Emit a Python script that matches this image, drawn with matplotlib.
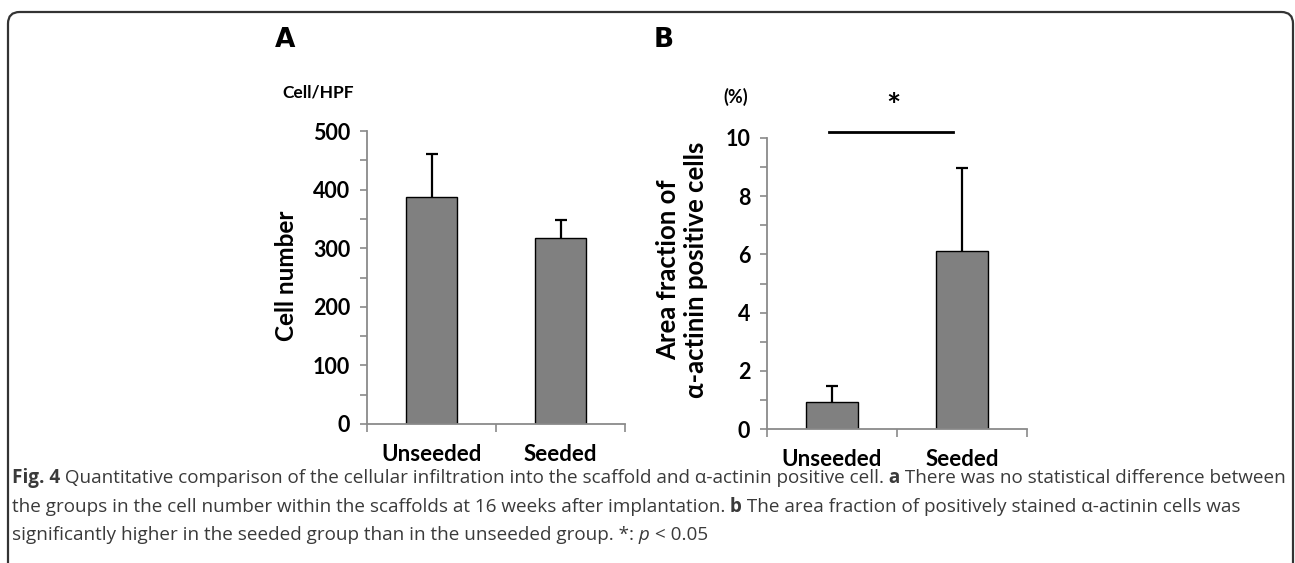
import numpy as np
import matplotlib
matplotlib.use("Agg")
import matplotlib.pyplot as plt
from matplotlib.patches import FancyBboxPatch
from matplotlib.ticker import MultipleLocator

# data
groups = ["Unseeded", "Seeded"]
cell_mean = [387, 317]
cell_err = [74, 31]
actinin_mean = [0.93, 6.12]
actinin_err = [0.55, 2.85]

W, H = 1295, 563
fig = plt.figure(figsize=(W / 100, H / 100), dpi=100)

chart_font = "Lato"
bar_color = "#808080"
axis_gray = "#8a8a8a"


def px(x, y):
    # pixel (from top-left) -> figure fraction
    return x / W, 1 - y / H


def bar_panel(ax, means, errs, ymax, major, minor):
    x = np.arange(len(groups)) + 0.5
    ax.bar(x, means, width=0.4, color=bar_color, edgecolor="black", linewidth=1.0, zorder=2)
    eb = ax.errorbar(x, means, yerr=[np.zeros(len(errs)), errs], fmt="none", ecolor="black",
                     elinewidth=1.6, capsize=4, capthick=1.6, zorder=3)
    eb[1][0].set_visible(False)  # no cap at the bar top
    ax.set_xlim(0, len(groups))
    ax.set_ylim(0, ymax)
    for s in ["top", "right"]:
        ax.spines[s].set_visible(False)
    for s in ["left", "bottom"]:
        ax.spines[s].set_color(axis_gray)
        ax.spines[s].set_linewidth(1.3)
    ax.yaxis.set_major_locator(MultipleLocator(major))
    ax.yaxis.set_minor_locator(MultipleLocator(minor))
    ax.tick_params(axis="y", which="both", direction="out", length=5, width=1.2, color=axis_gray,
                   labelsize=15.5, pad=7)
    ax.set_xticks(np.arange(len(groups) + 1))
    ax.set_xticklabels([])
    ax.tick_params(axis="x", direction="out", length=6, width=1.2, color=axis_gray)
    for lab in ax.get_yticklabels():
        lab.set_fontweight("bold")
        lab.set_fontfamily(chart_font)
    for xi, g in zip(x, groups):
        ax.text(xi, -0.105 * ymax, g, ha="center", va="center", fontsize=16,
                fontweight="bold", family=chart_font, transform=ax.transData, clip_on=False)


# panel A
l, b = px(367, 424)
_, t = px(0, 131)
axA = fig.add_axes([l, b, (625 - 367) / W, t - b])
bar_panel(axA, cell_mean, cell_err, 500, 100, 50)

# panel B
l, b = px(767, 429)
_, t = px(0, 138)
axB = fig.add_axes([l, b, (1027 - 767) / W, t - b])
bar_panel(axB, actinin_mean, actinin_err, 10, 2, 1)

# significance bar
axB.plot([0.48, 1.43], [10.2, 10.2], color="black", lw=2, clip_on=False)
axB.text(0.97, 11.05, "*", ha="center", va="center", fontsize=24, fontweight="bold",
         family=chart_font, clip_on=False)

# panel letters and unit labels
fig.text(*px(285, 40), "A", ha="center", va="center", fontsize=19, fontweight="bold", family="DejaVu Sans")
fig.text(*px(664, 40), "B", ha="center", va="center", fontsize=19, fontweight="bold", family="DejaVu Sans")
fig.text(*px(318, 93), "Cell/HPF", ha="center", va="center", fontsize=12.5, fontweight="bold", family=chart_font)
fig.text(*px(736, 97), "(%)", ha="center", va="center", fontsize=13, fontweight="bold", family=chart_font)

fig.text(*px(286, 276), "Cell number", rotation=90, ha="center", va="center", fontsize=17.5,
         fontweight="bold", family=chart_font)
fig.text(*px(682, 270), "Area fraction of\nα-actinin positive cells", rotation=90, ha="center",
         va="center", fontsize=18.5, fontweight="bold", family=chart_font, linespacing=1.15)

# caption with mixed weights
cap_color = "#3a3a3a"
cap_font = "Open Sans"
cap_size = 13.55
caption = [
    [("Fig. 4", "bold", "normal"),
     (" Quantitative comparison of the cellular infiltration into the scaffold and α-actinin positive cell.", "normal", "normal"),
     (" a", "bold", "normal"),
     (" There was no statistical difference between", "normal", "normal")],
    [("the groups in the cell number within the scaffolds at 16 weeks after implantation.", "normal", "normal"),
     (" b", "bold", "normal"),
     (" The area fraction of positively stained α-actinin cells was", "normal", "normal")],
    [("significantly higher in the seeded group than in the unseeded group. *:", "normal", "normal"),
     (" p", "normal", "italic"),
     (" < 0.05", "normal", "normal")],
]
line_y = [478, 507, 535]

fig.canvas.draw()
renderer = fig.canvas.get_renderer()
for pieces, yy in zip(caption, line_y):
    xpix = 12
    for s, wgt, sty in pieces:
        t = fig.text(xpix / W, 1 - yy / H, s, ha="left", va="center", fontsize=cap_size,
                     fontweight=wgt, fontstyle=sty, family=cap_font, color=cap_color)
        bb = t.get_window_extent(renderer)
        xpix += bb.width

# outer rounded frame (bottom edge falls outside the picture)
frame = FancyBboxPatch((8 / W, -0.1), (1293 - 8) / W, (1 - 12 / H) + 0.1,
                       boxstyle="round,pad=0,rounding_size=0.009", transform=fig.transFigure,
                       fill=False, edgecolor="#333333", linewidth=1.6, mutation_aspect=W / H)
fig.patches.append(frame)

fig.savefig("out.png", dpi=100)
